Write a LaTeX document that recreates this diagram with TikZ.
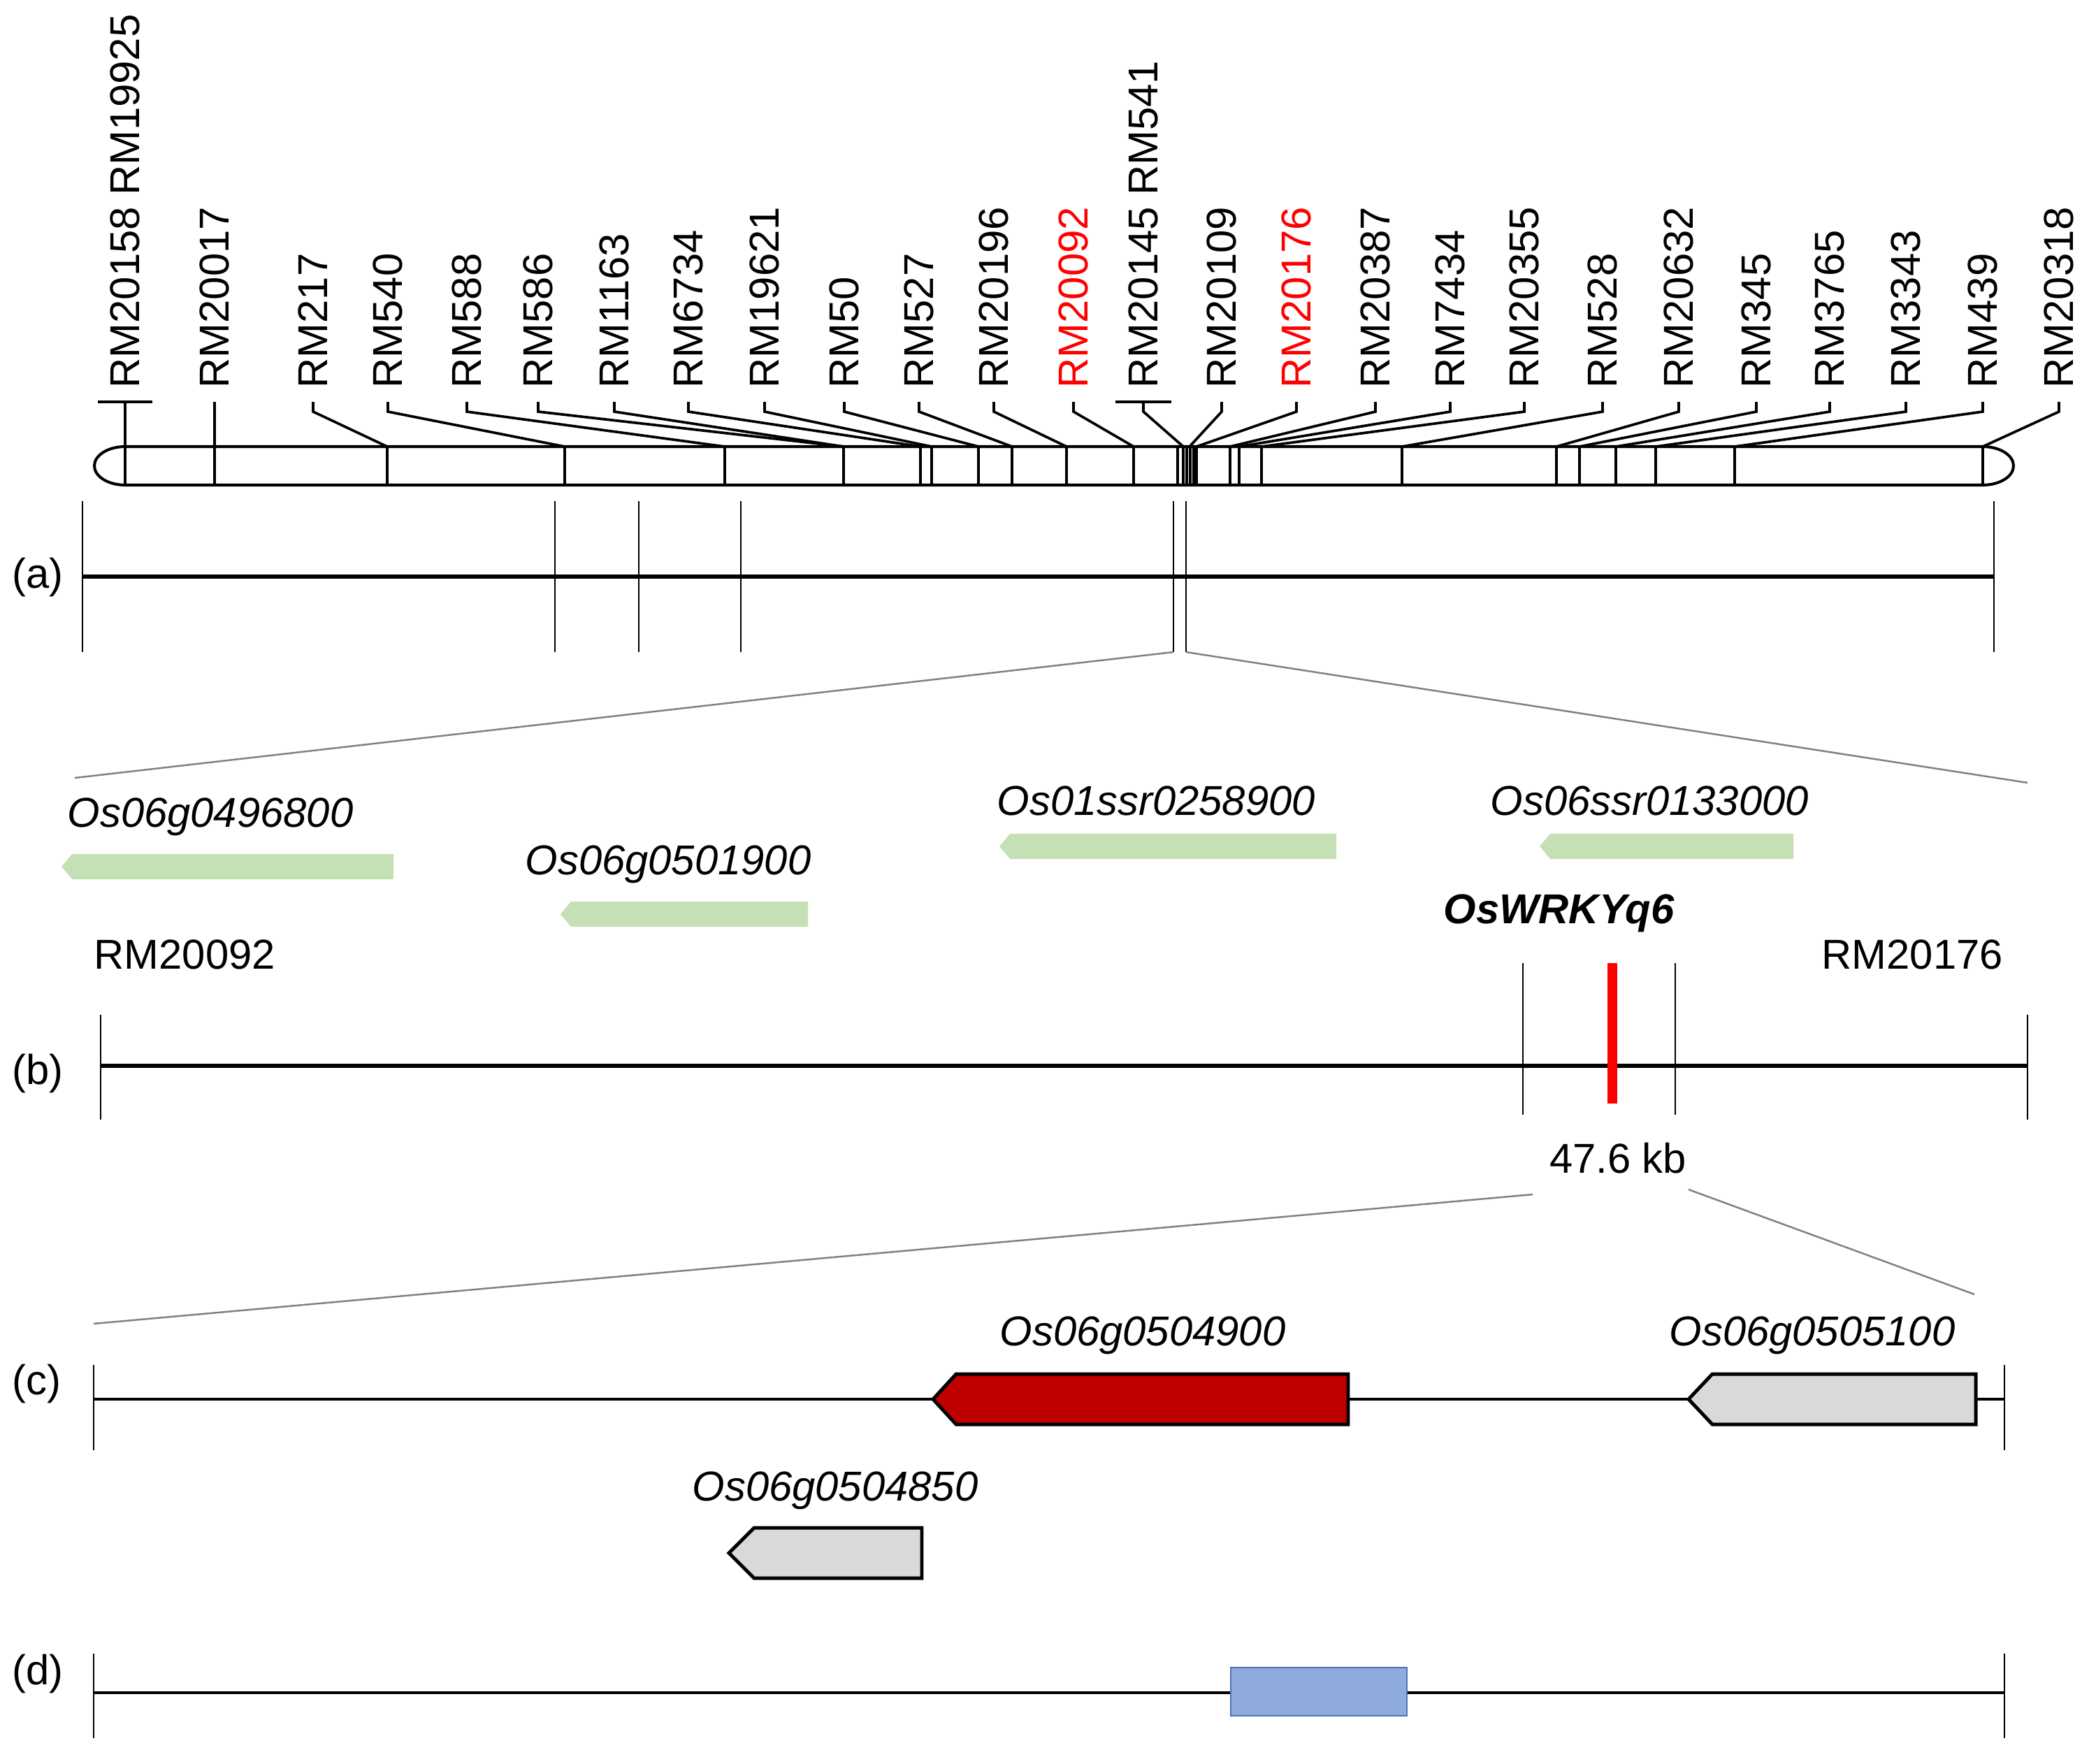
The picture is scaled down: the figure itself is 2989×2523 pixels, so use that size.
\documentclass[tikz,border=0pt]{standalone}
\usepackage{fontspec}
\setmainfont{Liberation Sans}
\definecolor{genegreen}{HTML}{C5E0B4}
\definecolor{genered}{HTML}{C00000}
\definecolor{genegray}{HTML}{D9D9D9}
\definecolor{boxblue}{HTML}{8FAADC}
\definecolor{edgeblue}{HTML}{4A73B8}
\tikzset{
  mklabel/.style={rotate=90,anchor=west,inner xsep=1.9mm,inner ysep=0pt,font=\fontsize{17}{20}\selectfont},
  genelabel/.style={anchor=base west,inner sep=0pt,font=\fontsize{17}{20}\selectfont\itshape},
  txt/.style={anchor=base west,inner sep=0pt,font=\fontsize{17}{20}\selectfont},
  panel/.style={anchor=west,inner sep=0pt,font=\fontsize{17}{20}\selectfont},
  conn/.style={line width=1.05pt},
  chrom/.style={line width=1.15pt},
  axisline/.style={line width=1.5pt},
  vtick/.style={line width=0.8pt},
  zoomline/.style={gray,line width=0.7pt},
  greengene/.style={fill=genegreen},
  boxgene/.style={draw=black,line width=1.4pt,line join=miter}
}
\begin{document}
\begin{tikzpicture}[x=0.1mm,y=-0.1mm]
\useasboundingbox (0,0) rectangle (2989,2523);

\node[mklabel] (rm20158) at (179,575) {RM20158 RM19925};
\node[mklabel] (rm20017) at (307,575) {RM20017};
\node[mklabel] (rm217) at (448,575) {RM217};
\node[mklabel] (rm540) at (555,575) {RM540};
\node[mklabel] (rm588) at (668,575) {RM588};
\node[mklabel] (rm586) at (770,575) {RM586};
\node[mklabel] (rm1163) at (879,575) {RM1163};
\node[mklabel] (rm6734) at (985,575) {RM6734};
\node[mklabel] (rm19621) at (1094,575) {RM19621};
\node[mklabel] (rm50) at (1208,575) {RM50};
\node[mklabel] (rm527) at (1315,575) {RM527};
\node[mklabel] (rm20196) at (1422,575) {RM20196};
\node[mklabel,red] (rm20092) at (1536,575) {RM20092};
\node[mklabel] (rm20145) at (1636,575) {RM20145 RM541};
\node[mklabel] (rm20109) at (1748,575) {RM20109};
\node[mklabel,red] (rm20176) at (1855,575) {RM20176};
\node[mklabel] (rm20387) at (1968,575) {RM20387};
\node[mklabel] (rm7434) at (2075,575) {RM7434};
\node[mklabel] (rm20355) at (2181,575) {RM20355};
\node[mklabel] (rm528) at (2293,575) {RM528};
\node[mklabel] (rm20632) at (2402,575) {RM20632};
\node[mklabel] (rm345) at (2513,575) {RM345};
\node[mklabel] (rm3765) at (2618,575) {RM3765};
\node[mklabel] (rm3343) at (2727,575) {RM3343};
\node[mklabel] (rm439) at (2837,575) {RM439};
\node[mklabel] (rm20318) at (2946,575) {RM20318};

\coordinate (rm20158p) at (179,639);
\coordinate (rm20017p) at (307,639);
\coordinate (rm217p) at (554,639);
\coordinate (rm540p) at (808,639);
\coordinate (rm588p) at (1037,639);
\coordinate (rm586p) at (1207,639);
\coordinate (rm1163p) at (1207,639);
\coordinate (rm6734p) at (1317,639);
\coordinate (rm19621p) at (1333,639);
\coordinate (rm50p) at (1400,639);
\coordinate (rm527p) at (1448,639);
\coordinate (rm20196p) at (1526,639);
\coordinate (rm20092p) at (1622,639);
\coordinate (rm20145p) at (1693,639);
\coordinate (rm20109p) at (1702,639);
\coordinate (rm20176p) at (1712,639);
\coordinate (rm20387p) at (1760,639);
\coordinate (rm7434p) at (1773,639);
\coordinate (rm20355p) at (1805,639);
\coordinate (rm528p) at (2006,639);
\coordinate (rm20632p) at (2227,639);
\coordinate (rm345p) at (2260,639);
\coordinate (rm3765p) at (2312,639);
\coordinate (rm3343p) at (2369,639);
\coordinate (rm439p) at (2482,639);
\coordinate (rm20318p) at (2837,639);

\draw[conn] (rm20158.west) ++(-39,0) -- ++(78,0);
\draw[conn] (rm20158.west) -- (rm20158p);
\draw[conn] (rm20017.west) -- (rm20017p);
\draw[conn] (rm217.west) -- ++(0,14) -- (rm217p);
\draw[conn] (rm540.west) -- ++(0,14) -- (rm540p);
\draw[conn] (rm588.west) -- ++(0,14) -- (rm588p);
\draw[conn] (rm586.west) -- ++(0,14) -- (rm586p);
\draw[conn] (rm1163.west) -- ++(0,14) -- (rm1163p);
\draw[conn] (rm6734.west) -- ++(0,14) -- (rm6734p);
\draw[conn] (rm19621.west) -- ++(0,14) -- (rm19621p);
\draw[conn] (rm50.west) -- ++(0,14) -- (rm50p);
\draw[conn] (rm527.west) -- ++(0,14) -- (rm527p);
\draw[conn] (rm20196.west) -- ++(0,14) -- (rm20196p);
\draw[conn] (rm20092.west) -- ++(0,14) -- (rm20092p);
\draw[conn] (rm20145.west) ++(-40,0) -- ++(80,0);
\draw[conn] (rm20145.west) -- ++(0,14) -- (rm20145p);
\draw[conn] (rm20109.west) -- ++(0,14) -- (rm20109p);
\draw[conn] (rm20176.west) -- ++(0,14) -- (rm20176p);
\draw[conn] (rm20387.west) -- ++(0,14) -- (rm20387p);
\draw[conn] (rm7434.west) -- ++(0,14) -- (rm7434p);
\draw[conn] (rm20355.west) -- ++(0,14) -- (rm20355p);
\draw[conn] (rm528.west) -- ++(0,14) -- (rm528p);
\draw[conn] (rm20632.west) -- ++(0,14) -- (rm20632p);
\draw[conn] (rm345.west) -- ++(0,14) -- (rm345p);
\draw[conn] (rm3765.west) -- ++(0,14) -- (rm3765p);
\draw[conn] (rm3343.west) -- ++(0,14) -- (rm3343p);
\draw[conn] (rm439.west) -- ++(0,14) -- (rm439p);
\draw[conn] (rm20318.west) -- ++(0,14) -- (rm20318p);

\draw[chrom] (179,639) -- (2837,639) arc[start angle=270,end angle=450,x radius=44,y radius=27.5]
  -- (179,694) arc[start angle=90,end angle=270,x radius=44,y radius=27.5] -- cycle;
\draw[chrom] (179,639) -- ++(0,55) (307,639) -- ++(0,55) (554,639) -- ++(0,55) (808,639) -- ++(0,55)
  (1037,639) -- ++(0,55) (1207,639) -- ++(0,55) (1317,639) -- ++(0,55) (1333,639) -- ++(0,55)
  (1400,639) -- ++(0,55) (1448,639) -- ++(0,55) (1526,639) -- ++(0,55) (1622,639) -- ++(0,55)
  (1685,639) -- ++(0,55) (1693,639) -- ++(0,55) (1698,639) -- ++(0,55) (1703,639) -- ++(0,55)
  (1708,639) -- ++(0,55) (1712,639) -- ++(0,55) (1760,639) -- ++(0,55) (1773,639) -- ++(0,55)
  (1805,639) -- ++(0,55) (2006,639) -- ++(0,55) (2227,639) -- ++(0,55) (2260,639) -- ++(0,55)
  (2312,639) -- ++(0,55) (2369,639) -- ++(0,55) (2482,639) -- ++(0,55) (2837,639) -- ++(0,55);

\node[panel] (pa) at (17,826) {(a)};
\draw[axisline] (118,825) -- (2853,825);
\draw[vtick] (118,717) -- (118,933) (794,717) -- (794,933) (914,717) -- (914,933) (1060,717) -- (1060,933)
  (1679,717) -- (1679,933) (1697,717) -- (1697,933) (2853,717) -- (2853,933);
\coordinate (za1) at (1679,933);
\coordinate (za2) at (1697,933);
\coordinate (zb1) at (107,1113);
\coordinate (zb2) at (2901,1120);
\draw[zoomline] (za1) -- (zb1);
\draw[zoomline] (za2) -- (zb2);

\node[genelabel] (g1) at (96,1183) {Os06g0496800};
\node[genelabel] (g2) at (751,1251) {Os06g0501900};
\node[genelabel] (g3) at (1426,1166) {Os01ssr0258900};
\node[genelabel] (g4) at (2132,1166) {Os06ssr0133000};
\fill[greengene] (88,1240) -- (103,1222) -- (563,1222) -- (563,1258) -- (103,1258) -- cycle;
\fill[greengene] (802,1308) -- (817,1290) -- (1156,1290) -- (1156,1326) -- (817,1326) -- cycle;
\fill[greengene] (1430,1211) -- (1445,1193) -- (1912,1193) -- (1912,1229) -- (1445,1229) -- cycle;
\fill[greengene] (2203,1211) -- (2218,1193) -- (2566,1193) -- (2566,1229) -- (2218,1229) -- cycle;
\node[genelabel,font=\fontsize{17}{20}\selectfont\bfseries\itshape] (wrky) at (2065,1321) {OsWRKYq6};
\node[txt] (lm1) at (134,1386) {RM20092};
\node[txt] (lm2) at (2606,1386) {RM20176};

\node[panel] (pb) at (17,1536) {(b)};
\draw[axisline] (144,1525) -- (2901,1525);
\draw[vtick] (144,1452) -- (144,1602) (2901,1452) -- (2901,1602) (2179,1378) -- (2179,1595) (2397,1378) -- (2397,1595);
\draw[red,line width=4pt] (2307,1378) -- (2307,1579);
\node[txt,anchor=base] (kb) at (2315,1678) {47.6 kb};
\coordinate (zc1) at (2193,1709);
\coordinate (zc2) at (2416,1702);
\coordinate (zd1) at (134,1894);
\coordinate (zd2) at (2825,1852);
\draw[zoomline] (zc1) -- (zd1);
\draw[zoomline] (zc2) -- (zd2);

\node[panel] (pc) at (17,1980) {(c)};
\draw[line width=1.2pt] (134,2002) -- (2868,2002);
\draw[vtick] (134,1953) -- (134,2075) (2868,1953) -- (2868,2075);
\draw[boxgene,fill=genered] (1335,2002) -- (1368,1966) -- (1929,1966) -- (1929,2038) -- (1368,2038) -- cycle;
\draw[boxgene,fill=genegray] (2416,2002) -- (2450,1966) -- (2827,1966) -- (2827,2038) -- (2450,2038) -- cycle;
\draw[boxgene,fill=genegray] (1043,2222) -- (1079,2186) -- (1319,2186) -- (1319,2258) -- (1079,2258) -- cycle;
\node[genelabel] (g5) at (1430,1925) {Os06g0504900};
\node[genelabel] (g6) at (2388,1925) {Os06g0505100};
\node[genelabel] (g7) at (990,2147) {Os06g0504850};

\node[panel] (pd) at (17,2395) {(d)};
\draw[line width=1.2pt] (134,2422) -- (2868,2422);
\draw[vtick] (134,2366) -- (134,2487) (2868,2366) -- (2868,2487);
\draw[edgeblue,fill=boxblue,line width=0.6pt] (1761,2386) rectangle (2013,2455);
\end{tikzpicture}
\end{document}
